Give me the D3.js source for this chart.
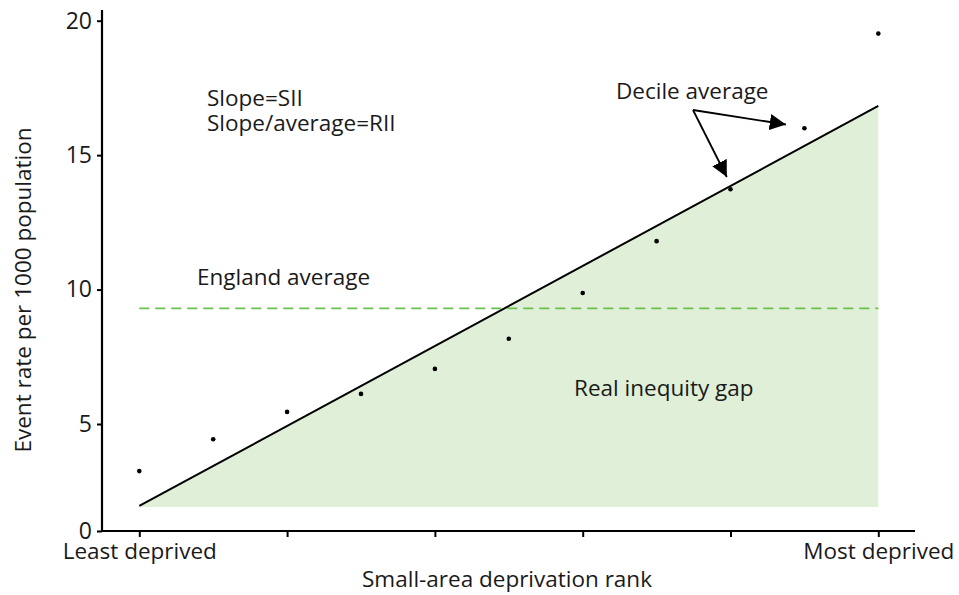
<!DOCTYPE html>
<html>
<head>
<meta charset="utf-8">
<script src="https://cdn.jsdelivr.net/npm/d3@7"></script>
<style>
  body { margin: 0; background: #fff; }
  svg text { font-family: "Open Sans", sans-serif; fill: #1a1a1a; }
</style>
</head>
<body>
<div id="chart"></div>
<script>
// decile position (0 = least deprived, 10 = most deprived) and average event rate
var rankPositions = [0, 1, 2, 3, 4, 5, 6, 7, 8, 9, 10];
var decileRates = [2.80, 4.29, 5.45, 6.12, 7.05, 8.17, 9.87, 11.80, 13.73, 16.0, 19.52];
// fitted slope line (value at least deprived, value at most deprived)
var slopeEnds = [1.17, 16.83];
var gapBase = 1.12;
var englandAverage = 9.30;
var yTicks = [0, 5, 10, 15, 20];
var xTicks = [0, 2, 4, 6, 8, 10];
var xTickLabels = ["Least deprived", "", "", "", "", "Most deprived"];

var width = 959, height = 595;
var fs = 22.5;

var svg = d3.select("#chart")
  .append("svg")
  .attr("width", width)
  .attr("height", height);

var x = d3.scaleLinear().domain([0, 10]).range([139.3, 878.3]);
// the axis is squeezed below 5 in the original
var y = d3.scaleLinear().domain([0, 5, 20]).range([531, 424, 20.7]);

// shaded inequity gap
var gap = [
  [x(0), y(slopeEnds[0])],
  [x(10), y(slopeEnds[1])],
  [x(10), y(gapBase)],
  [x(0), y(gapBase)]
];
svg.append("path")
  .attr("d", d3.line()(gap) + "Z")
  .attr("fill", "#dfefd8");

// england average
svg.append("line")
  .attr("x1", x(0)).attr("x2", x(10))
  .attr("y1", y(englandAverage)).attr("y2", y(englandAverage))
  .attr("stroke", "#6cbf4f")
  .attr("stroke-width", 1.6)
  .attr("stroke-dasharray", "10,6");

// slope line
svg.append("line")
  .attr("x1", x(0)).attr("y1", y(slopeEnds[0]))
  .attr("x2", x(10)).attr("y2", y(slopeEnds[1]))
  .attr("stroke", "#000")
  .attr("stroke-width", 2);

// decile points
svg.append("g")
  .selectAll("circle")
  .data(decileRates)
  .join("circle")
  .attr("cx", function(d, i) { return x(rankPositions[i]); })
  .attr("cy", function(d) { return y(d); })
  .attr("r", 2.3)
  .attr("fill", "#000");

// y axis
var yAxis = svg.append("g")
  .attr("transform", "translate(102,0)")
  .call(d3.axisLeft(y).tickValues(yTicks).tickSize(5).tickPadding(5));
yAxis.select(".domain").remove();
yAxis.selectAll("line").attr("stroke", "#000").attr("stroke-width", 2);
yAxis.selectAll("text").attr("font-size", 23).attr("font-family", "Open Sans").attr("fill", "#1a1a1a");
svg.append("line")
  .attr("x1", 102).attr("x2", 102)
  .attr("y1", 10).attr("y2", 532)
  .attr("stroke", "#000").attr("stroke-width", 2.2);

// x axis
var xAxis = svg.append("g")
  .attr("transform", "translate(0,531)")
  .call(d3.axisBottom(x).tickValues(xTicks).tickSize(6).tickPadding(6)
    .tickFormat(function(d, i) { return xTickLabels[i]; }));
xAxis.select(".domain").remove();
xAxis.selectAll("line").attr("stroke", "#000").attr("stroke-width", 2);
xAxis.selectAll("text").attr("font-size", fs).attr("font-family", "Open Sans").attr("fill", "#1a1a1a");
svg.append("line")
  .attr("x1", 101).attr("x2", 915)
  .attr("y1", 531).attr("y2", 531)
  .attr("stroke", "#000").attr("stroke-width", 2.2);

// axis titles
svg.append("text")
  .attr("x", 507).attr("y", 587)
  .attr("text-anchor", "middle")
  .attr("font-size", fs)
  .text("Small-area deprivation rank");

svg.append("text")
  .attr("transform", "translate(31,290) rotate(-90)")
  .attr("text-anchor", "middle")
  .attr("font-size", fs)
  .text("Event rate per 1000 population");

// annotations
svg.append("text").attr("x", 207).attr("y", 106).attr("font-size", fs).text("Slope=SII");
svg.append("text").attr("x", 207).attr("y", 131).attr("font-size", fs).text("Slope/average=RII");
svg.append("text").attr("x", 197).attr("y", 285).attr("font-size", fs).text("England average");
svg.append("text").attr("x", 574).attr("y", 396).attr("font-size", fs).text("Real inequity gap");
svg.append("text").attr("x", 616).attr("y", 99).attr("font-size", fs).text("Decile average");

svg.append("defs").append("marker")
  .attr("id", "head")
  .attr("viewBox", "0 0 10 10")
  .attr("refX", 10).attr("refY", 5)
  .attr("markerWidth", 9).attr("markerHeight", 9)
  .attr("markerUnits", "strokeWidth")
  .attr("orient", "auto")
  .append("path")
  .attr("d", "M0,0L10,5L0,10Z")
  .attr("fill", "#000");

var arrowFrom = [693, 110];
[[x(8.75), 124.5], [x(7.95), 177]].forEach(function(t) {
  svg.append("line")
    .attr("x1", arrowFrom[0]).attr("y1", arrowFrom[1])
    .attr("x2", t[0]).attr("y2", t[1])
    .attr("stroke", "#000")
    .attr("stroke-width", 1.8)
    .attr("marker-end", "url(#head)");
});
</script>
</body>
</html>
